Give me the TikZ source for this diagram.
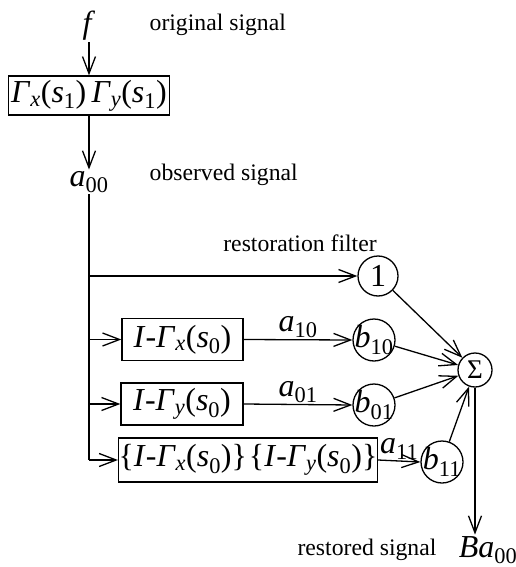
\documentclass[tikz,border=0pt]{standalone}
\usepackage{fontspec}
\setmainfont{Liberation Serif}
\usetikzlibrary{arrows.meta}
\newcommand{\Gm}[1]{\textit{Γ}\textsubscript{\textit{#1}}}
\newcommand{\Sv}[1]{(\textit{s}\textsubscript{#1})}
\newcommand{\olap}[1]{\makebox[0pt]{#1}}

\begin{document}
\begin{tikzpicture}
[x=1pt, y=-1pt, line width=1.3pt, inner sep=1pt,
 >={Straight Barb[length=17pt,width=13pt]},
 font=\fontsize{32}{38}\selectfont]
\tikzstyle{filter}=[draw, inner sep=0pt, minimum height=42pt]
\tikzstyle{coef}=[circle, draw, inner sep=0pt, minimum size=42pt]
\tikzstyle{caption}=[inner sep=0pt, font=\fontsize{23.7}{28}\selectfont]
\useasboundingbox (0,0) rectangle (516,567);

\node			(f)		at (89,26)		{\textit{f}};
\node[caption, anchor=west]	(orig)	at (149,25)		{original signal};
\node[filter, minimum width=161pt, minimum height=39pt]	(G1)	at (89,95.5)	{\Gm{x}\Sv{1}\,\Gm{y}\Sv{1}};
\node			(a00)	at (89,182)		{\textit{a}\textsubscript{00}};
\node[caption, anchor=west]	(obs)	at (149,175)	{observed signal};

\node[caption]		(rest)	at (300,243)	{restoration filter};
\node[coef, minimum size=40pt]	(one)	at (378,276)	{1};
\node[filter, minimum width=121pt]	(Bx)	at (182.5,339.5)	{\textit{I}-\Gm{x}\Sv{0}};
\node[filter, minimum width=122pt]	(By)	at (182,404)	{\textit{I}-\Gm{y}\Sv{0}};
\node[filter, minimum width=254pt, minimum height=44pt]	(Bxy)	at (248,460)	{\{\textit{I}-\Gm{x}\Sv{0}\}\hspace{2pt}\{\textit{I}-\Gm{y}\Sv{0}\}};

\node[coef]		(b10)	at (374,340)	{\olap{\textit{b}\textsubscript{10}}};
\node[coef]		(b01)	at (374,405)	{\olap{\textit{b}\textsubscript{01}}};
\node[coef]		(b11)	at (442,462)	{\olap{\textit{b}\textsubscript{11}}};
\node[coef, minimum size=34pt]	(sum)	at (475,370)	{\fontsize{27}{27}\selectfont Σ};

\node			(Ba)	at (488,550)	{\textit{Ba}\textsubscript{00}};
\node[caption]		(restd)	at (367,550)	{restored signal};

\draw [->] (f)--(G1);
\draw [->] (G1)--(a00);
\draw (a00)--(a00 |- Bxy);
\draw [->] (a00 |- one)--(one);
\draw [->] (a00 |- Bx)--(Bx);
\draw [->] (a00 |- By)--(By);
\draw [->] (a00 |- Bxy)--(Bxy);

\draw [->] (Bx.east)--node[above] {\textit{a}\textsubscript{10}} (b10.west);
\draw [->] (By.east)--node[above] {\textit{a}\textsubscript{01}} (b01.west);
\draw [->] (Bxy.east)--node[above] {\textit{a}\textsubscript{11}} (b11.west);

\draw [->] (one)--(sum);
\draw [->] (b10)--(sum);
\draw [->] (b01)--(sum);
\draw [->] (b11)--(sum);
\draw [->] (sum)--(sum |- Ba.north);
\end{tikzpicture}
\end{document}
